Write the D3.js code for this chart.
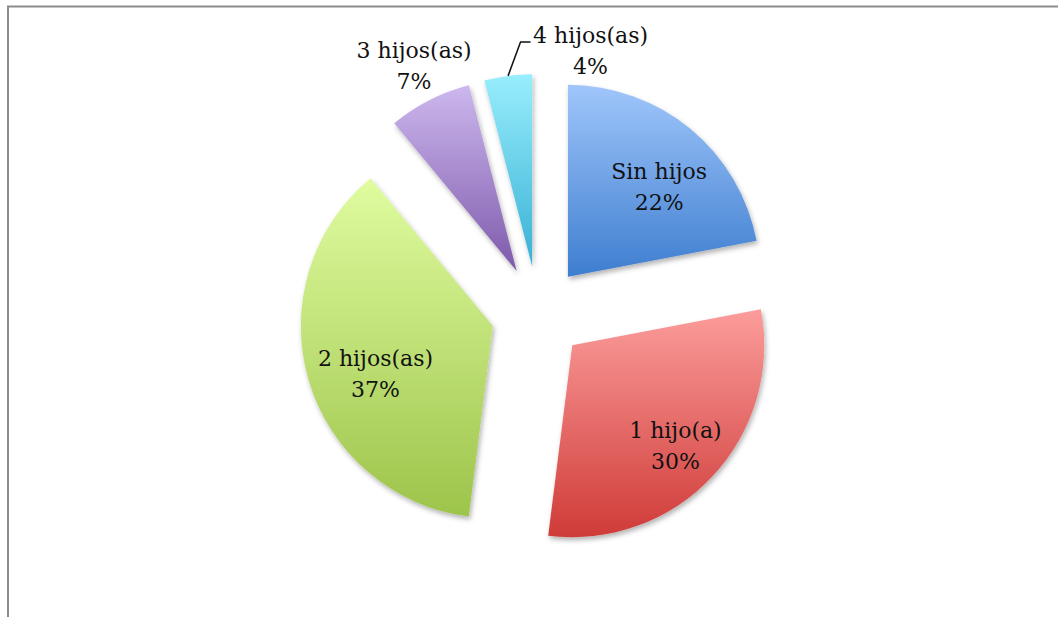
<!DOCTYPE html>
<html>
<head>
<meta charset="utf-8">
<script src="https://cdn.jsdelivr.net/npm/d3@7"></script>
<style>
  body { margin: 0; background: #fff; }
  svg text { font-family: "DejaVu Serif", serif; font-size: 22px; fill: #111; }
</style>
</head>
<body>
<div id="pie-chart"></div>
<script>
var categories = ["Sin hijos", "1 hijo(a)", "2 hijos(as)", "3 hijos(as)", "4 hijos(as)"];
var values = [22, 30, 37, 7, 4];
var pctLabels = ["22%", "30%", "37%", "7%", "4%"];
var topColors = ["#a0c6fb", "#fb9d9b", "#e0fca0", "#cdb8ee", "#98eefc"];
var bottomColors = ["#3e7ecf", "#cf3b38", "#9dc44b", "#7d59ab", "#38b0d5"];
var labelMode = ["in", "in", "in", "out", "callout"];

var w = 1058, h = 617;
var cx = 538, cy = 313, radius = 192, explode = 47;

var svg = d3.select("#pie-chart").append("svg").attr("width", w).attr("height", h);
var defs = svg.append("defs");

// frame (right and bottom edges fall outside the picture)
svg.append("path")
    .attr("d", "M8," + (h + 5) + " L8,6.5 L" + (w + 5) + ",6.5")
    .attr("fill", "none")
    .attr("stroke", "#8c8c8c")
    .attr("stroke-width", 2);

var shadow = defs.append("filter").attr("id", "shadow")
    .attr("x", "-20%").attr("y", "-20%").attr("width", "140%").attr("height", "140%");
shadow.append("feDropShadow")
    .attr("dx", 1.5).attr("dy", 3).attr("stdDeviation", 2.5)
    .attr("flood-color", "#000").attr("flood-opacity", 0.3);

categories.forEach(function(c, i){
    var g = defs.append("linearGradient").attr("id", "grad" + i)
        .attr("x1", 0).attr("y1", 0).attr("x2", 0).attr("y2", 1);
    g.append("stop").attr("offset", "0%").attr("stop-color", topColors[i]);
    g.append("stop").attr("offset", "100%").attr("stop-color", bottomColors[i]);
});

var data = categories.map(function(c, i){ return {name: c, value: values[i], pct: pctLabels[i], idx: i}; });

var pie = d3.pie().sort(null).value(function(d){ return d.value; });
var arc = d3.arc().innerRadius(0).outerRadius(radius);
var arcs = pie(data);

var midAngle = function(d){ return (d.startAngle + d.endAngle) / 2; };
var polar = function(a, r){ return [Math.sin(a) * r, -Math.cos(a) * r]; };

var wrapper = svg.append("g").attr("transform", "translate(" + cx + "," + cy + ")");

var slices = wrapper.selectAll("g.slice")
    .data(arcs)
    .enter()
    .append("g")
    .attr("class", "slice")
    .attr("transform", function(d){
        var p = polar(midAngle(d), explode);
        return "translate(" + p[0] + "," + p[1] + ")";
    });

slices.append("path")
    .attr("d", arc)
    .attr("fill", function(d){ return "url(#grad" + d.data.idx + ")"; })
    .attr("filter", "url(#shadow)");

slices.each(function(d){
    var g = d3.select(this);
    var mode = labelMode[d.data.idx];
    var a = midAngle(d);
    var p;
    if (mode == "in") {
        p = polar(a, radius * 0.68);
        p[0] += 8;
        p[1] += 3;
    } else if (mode == "out") {
        p = polar(a, radius + 34);
        p[1] -= 12;
    } else {
        p = polar(a, radius + 20);
        p[0] += 85;
        p[1] -= 13;
        // leader line from the arc edge to the label
        var s = polar(a, radius);
        var textLeft = p[0] - 58;
        g.append("path")
            .attr("d", "M" + s[0] + "," + s[1] + " L" + (textLeft - 12) + "," + (p[1] - 1) + " L" + (textLeft - 2) + "," + (p[1] - 1))
            .attr("fill", "none")
            .attr("stroke", "#111")
            .attr("stroke-width", 1.5);
    }
    var t = g.append("text").attr("text-anchor", "middle");
    t.append("tspan").attr("x", p[0]).attr("y", p[1]).text(d.data.name);
    t.append("tspan").attr("x", p[0]).attr("y", p[1] + 31).text(d.data.pct);
});
</script>
</body>
</html>
